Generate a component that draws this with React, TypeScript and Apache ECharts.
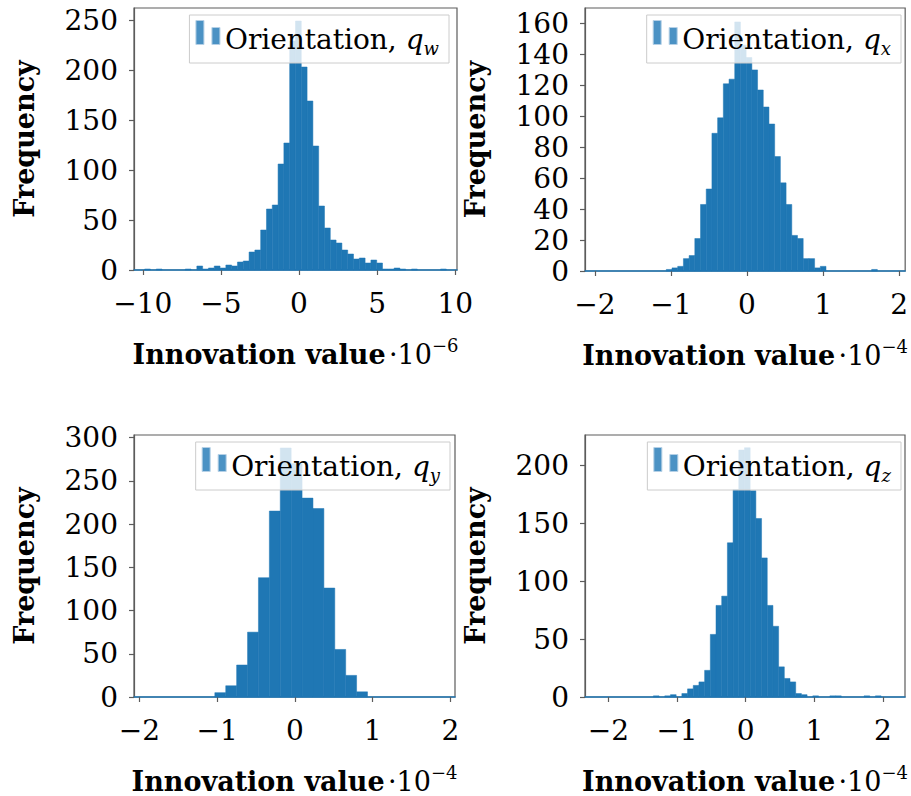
import React, { useEffect, useRef } from "react";
import * as echarts from "echarts";

// Bin counts of the four innovation histograms, left to right
const qwCounts = [1, 0, 1, 0, 0, 0, 0, 1, 0, 4, 1, 2, 4, 2, 5, 4, 8, 9, 18, 20, 40, 61, 65, 106, 127, 229, 249, 203, 169, 124, 64, 42, 30, 27, 20, 16, 11, 12, 7, 10, 7, 1, 1, 2, 1, 0, 1, 0, 0, 0, 0, 1];
const qwBinStart = -9.88;
const qwBinWidth = 0.3713;

const qxCounts = [1, 2, 3, 8, 10, 21, 43, 53, 89, 99, 121, 124, 161, 146, 138, 130, 117, 106, 95, 74, 57, 43, 23, 21, 8, 8, 2, 3, 0, 0, 0, 0, 0, 0, 0, 0, 1];
const qxBinStart = -1.061;
const qxBinWidth = 0.075;

const qyCounts = [5, 13, 37, 75, 138, 215, 288, 270, 230, 218, 126, 55, 25, 6];
const qyBinStart = -1.03;
const qyBinWidth = 0.1403;

const qzCounts = [1, 0, 1, 2, 0, 3, 7, 10, 13, 23, 54, 79, 87, 133, 179, 213, 215, 178, 154, 120, 79, 61, 26, 16, 13, 3, 2, 0, 1, 0, 0, 1, 1, 0, 0, 0, 0, 1, 0, 1];
const qzBinStart = -1.344;
const qzBinWidth = 0.0829;

// Axis ticks and labels
const xTicksW = [-10, -5, 0, 5, 10];
const xTicksXYZ = [-2, -1, 0, 1, 2];
const yTicksW = [0, 50, 100, 150, 200, 250];
const yTicksX = [0, 20, 40, 60, 80, 100, 120, 140, 160];
const yTicksY = [0, 50, 100, 150, 200, 250, 300];
const yTicksZ = [0, 50, 100, 150, 200];
const components = ["w", "x", "y", "z"];
const exponents = ["−6", "−4", "−4", "−4"];
const xLabel = "Innovation value";
const yLabel = "Frequency";
const legendLabel = "Orientation, ";

const FONT = "DejaVu Serif";
const BAR = "#1f77b4";
const SPINE = "#5c5c5c";

type Panel = {
  counts: number[];
  start: number;
  width: number;
  xTicks: number[];
  yTicks: number[];
  xRange: [number, number];
  yMax: number;
  grid: { left: number; top: number; width: number; height: number };
  legend: { right: number; top: number };
};

const panels: Panel[] = [
  {
    counts: qwCounts, start: qwBinStart, width: qwBinWidth,
    xTicks: xTicksW, yTicks: yTicksW, xRange: [-10.56, 10.11], yMax: 262,
    grid: { left: 134, top: 8, width: 323, height: 262 },
    legend: { right: 462, top: 15 },
  },
  {
    counts: qxCounts, start: qxBinStart, width: qxBinWidth,
    xTicks: xTicksXYZ, yTicks: yTicksX, xRange: [-2.13, 2.08], yMax: 170,
    grid: { left: 585, top: 8, width: 322, height: 263 },
    legend: { right: 10, top: 15 },
  },
  {
    counts: qyCounts, start: qyBinStart, width: qyBinWidth,
    xTicks: xTicksXYZ, yTicks: yTicksY, xRange: [-2.07, 2.06], yMax: 303,
    grid: { left: 134, top: 435, width: 321, height: 262 },
    legend: { right: 461, top: 442 },
  },
  {
    counts: qzCounts, start: qzBinStart, width: qzBinWidth,
    xTicks: xTicksXYZ, yTicks: yTicksZ, xRange: [-2.34, 2.32], yMax: 226,
    grid: { left: 585, top: 435, width: 320, height: 262 },
    legend: { right: 10, top: 442 },
  },
];

const toBins = (counts: number[], start: number, width: number) =>
  counts
    .map((c, i) => [start + i * width, start + (i + 1) * width, c])
    .filter((d) => d[2] > 0);

const minus = (v: number) => String(v).replace("-", "−");

function buildOption() {
  const grid: any[] = [];
  const xAxis: any[] = [];
  const yAxis: any[] = [];
  const series: any[] = [];
  const legend: any[] = [];

  panels.forEach((p, i) => {
    grid.push({
      ...p.grid,
      show: true,
      borderColor: SPINE,
      borderWidth: 1.2,
      backgroundColor: "transparent",
    });
    xAxis.push({
      type: "value",
      gridIndex: i,
      min: p.xRange[0],
      max: p.xRange[1],
      axisLine: { show: true, onZero: false, lineStyle: { color: BAR, width: 1.6 } },
      axisTick: {
        show: true, inside: false, length: 5, customValues: p.xTicks,
        lineStyle: { color: SPINE, width: 1.2 },
      },
      axisLabel: {
        customValues: p.xTicks, formatter: minus, margin: 19,
        fontFamily: FONT, fontSize: 28, color: "#000",
      },
      splitLine: { show: false },
      name: `{b|${xLabel}} {r|·10}{p|${exponents[i]}}`,
      nameLocation: "middle",
      nameGap: 66,
      nameTextStyle: {
        rich: {
          b: { fontFamily: FONT, fontSize: 27, fontWeight: "bold", color: "#000", lineHeight: 37 },
          r: { fontFamily: FONT, fontSize: 27, color: "#000", lineHeight: 37 },
          p: { fontFamily: FONT, fontSize: 18, color: "#000", lineHeight: 22, verticalAlign: "top" },
        },
      },
    });
    yAxis.push({
      type: "value",
      gridIndex: i,
      min: 0,
      max: p.yMax,
      axisLine: { show: true, onZero: false, lineStyle: { color: SPINE, width: 1.2 } },
      axisTick: {
        show: true, inside: false, length: 5, customValues: p.yTicks,
        lineStyle: { color: SPINE, width: 1.2 },
      },
      axisLabel: {
        customValues: p.yTicks, margin: 16,
        fontFamily: FONT, fontSize: 28, color: "#000",
      },
      splitLine: { show: false },
      name: yLabel,
      nameLocation: "middle",
      nameRotate: 90,
      nameGap: 96,
      nameTextStyle: { fontFamily: FONT, fontSize: 27, fontWeight: "bold", color: "#000" },
    });
    series.push({
      type: "custom",
      name: components[i],
      xAxisIndex: i,
      yAxisIndex: i,
      itemStyle: { color: BAR },
      encode: { x: [0, 1], y: 2 },
      data: toBins(p.counts, p.start, p.width),
      renderItem: (_params: any, api: any) => {
        const topLeft = api.coord([api.value(0), api.value(2)]);
        const bottomRight = api.coord([api.value(1), 0]);
        return {
          type: "rect",
          shape: {
            x: topLeft[0],
            y: topLeft[1],
            width: bottomRight[0] - topLeft[0],
            height: bottomRight[1] - topLeft[1],
          },
          style: { fill: BAR, stroke: BAR, lineWidth: 0.5 },
        };
      },
    });
    legend.push({
      data: [{ name: components[i], icon: "path://M0,0H8V24H0Z M16,7H24V24H16Z M0,37" }],
      right: p.legend.right,
      top: p.legend.top,
      orient: "horizontal",
      padding: [5, 10, 5, 6],
      itemWidth: 24,
      itemHeight: 37,
      backgroundColor: "rgba(255,255,255,0.8)",
      borderColor: "#cccccc",
      borderWidth: 1,
      borderRadius: 0,
      selectedMode: false,
      itemStyle: { color: "#4b92c4", borderColor: "#b5d0e6", borderWidth: 1 },
      formatter: (name: string) => `{t|${legendLabel}}{q|q}{s|${name}}`,
      textStyle: {
        color: "#000",
        rich: {
          t: { fontFamily: FONT, fontSize: 28, lineHeight: 37, color: "#000" },
          q: { fontFamily: FONT, fontSize: 28, fontStyle: "italic", lineHeight: 37, color: "#000" },
          s: { fontFamily: FONT, fontSize: 18, fontStyle: "italic", lineHeight: 22, verticalAlign: "bottom", color: "#000" },
        },
      },
    });
  });

  return {
    animation: false,
    backgroundColor: "#ffffff",
    grid,
    xAxis,
    yAxis,
    series,
    legend,
  };
}

export default function App() {
  const ref = useRef<HTMLDivElement>(null);

  useEffect(() => {
    if (!ref.current) return;
    const chart = echarts.init(ref.current, undefined, { renderer: "svg" });
    chart.setOption(buildOption());
    return () => chart.dispose();
  }, []);

  return (
    <div
      ref={ref}
      style={{ position: "absolute", left: 0, top: 0, width: 911, height: 796, background: "#fff" }}
    />
  );
}
